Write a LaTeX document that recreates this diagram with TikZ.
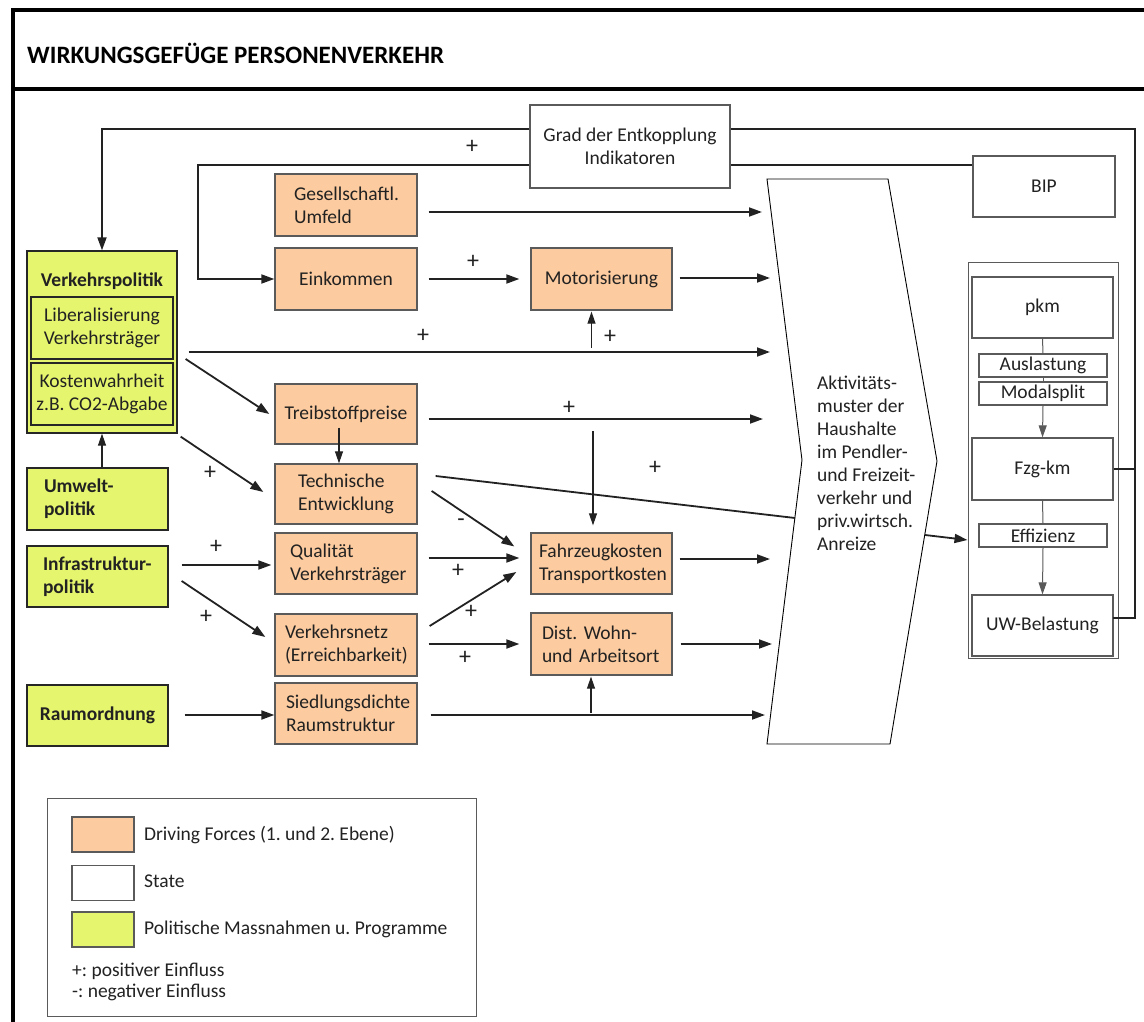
\documentclass[tikz,border=0pt]{standalone}
\usepackage{fontspec}
\setmainfont{Carlito}
\usetikzlibrary{arrows.meta,calc}
\definecolor{drvorange}{HTML}{FCCB9F}
\definecolor{polgreen}{HTML}{E6F56E}
\definecolor{edgegray}{HTML}{5A5A5A}
\definecolor{inkdark}{HTML}{222222}

\begin{document}
\frenchspacing
\begin{tikzpicture}[x=1pt,y=-1pt,
  txt/.style={font=\fontsize{19.5}{23}\selectfont},
  box/.style={draw=edgegray, line width=1.3pt, inner sep=0pt, txt, align=center, text=inkdark},
  drv/.style={box, fill=drvorange},
  pol/.style={box, fill=polgreen, draw=black!85},
  polb/.style={pol, font=\fontsize{19.5}{23}\selectfont\bfseries},
  sta/.style={box, fill=white},
  arr/.style={line width=1.8pt, draw=inkdark, -{Triangle[length=13pt,width=9pt]}},
  tarr/.style={line width=1.1pt, draw=inkdark, -{Triangle[length=12pt,width=8pt]}},
  tline/.style={line width=1pt, draw=edgegray},
  loopline/.style={line width=1.8pt, draw=inkdark},
  pm/.style={font=\fontsize{24}{24}\selectfont, inner sep=0pt, text=inkdark},
  frameline/.style={line width=3.6pt, line cap=rect, line join=miter},
]
\useasboundingbox (0,0) rectangle (1144,1022);

% frame and heading
\draw[frameline] (13,1030) -- (13,10) -- (1150,10);
\draw[frameline] (13,89) -- (1150,89);
\node[anchor=west, inner sep=0pt, font=\fontsize{25}{25}\selectfont\bfseries] (title) at (27,53) {WIRKUNGSGEFÜGE PERSONENVERKEHR};

% state boxes at the top
\node[sta, minimum width=200, minimum height=83] (grad) at (630,146.5) {Grad der Entkopplung\\Indikatoren};
\node[sta, minimum width=142, minimum height=61] (bip) at (1044,186.5) {BIP};

% policy column
\node[pol, minimum width=150, minimum height=182] (vp) at (102,342) {};
\node[inner sep=0pt, font=\fontsize{19.5}{23}\selectfont\bfseries, text=inkdark] (vptitle) at (102,281) {Verkehrspolitik};
\node[pol, minimum width=142, minimum height=62] (lib) at (102,328) {Liberalisierung\\Verkehrsträger};
\node[pol, minimum width=142, minimum height=62] (kost) at (102,394) {Kostenwahrheit\\z.B. CO2-Abgabe};
\node[polb, text width=107, inner xsep=17, align=left, minimum height=62] (umw) at (97.5,499) {Umwelt-\\politik};
\node[polb, text width=109, inner xsep=16, align=left, minimum height=61] (infra) at (97.5,576.5) {Infrastruktur-\\politik};
\node[polb, minimum width=141, minimum height=61] (raum) at (97.5,715.5) {Raumordnung};

% driving forces, first column
\node[drv, text width=104, inner xsep=19, align=left, minimum height=62] (ges) at (346,205) {Gesellschaftl.\\Umfeld};
\node[drv, minimum width=142, minimum height=62] (ein) at (346,279) {Einkommen};
\node[drv, minimum width=142, minimum height=60] (treib) at (346,414) {Treibstoffpreise};
\node[drv, text width=96, inner xsep=23, align=left, minimum height=60] (tech) at (346,494) {Technische\\Entwicklung};
\node[drv, text width=112, inner xsep=15, align=left, minimum height=61] (qual) at (346,563.5) {Qualität\\Verkehrsträger};
\node[drv, text width=122, inner xsep=10, align=left, minimum height=62] (netz) at (346,645) {Verkehrsnetz\\(Erreichbarkeit)};
\node[drv, text width=120, inner xsep=11, align=left, minimum height=61] (sied) at (346,713.5) {Siedlungsdichte\\Raumstruktur};

% driving forces, second column
\node[drv, minimum width=141, minimum height=62] (mot) at (601.5,279) {Motorisierung};
\node[drv, text width=125, inner xsep=8, align=left, minimum height=61] (fahr) at (601.5,563.5) {Fahrzeugkosten\\Transportkosten};
\node[drv, text width=119, inner xsep=11, align=left, minimum height=62] (dist) at (601.5,644) {Dist. Wohn-\\und Arbeitsort};

% activity pattern of households
\coordinate (cTL) at (767,179);
\coordinate (cTR) at (888,179);
\coordinate (cR)  at (937,461);
\coordinate (cBR) at (890,744);
\coordinate (cBL) at (767,744);
\coordinate (cL)  at (802,460);
\draw[line width=0.9pt, fill=white] (cTL) -- (cTR) -- (cR) -- (cBR) -- (cBL) -- (cL) -- cycle;
\node[txt, align=left, anchor=west, inner sep=0pt, text=inkdark] (akt) at (817,463)
  {Aktivitäts-\\muster der\\Haushalte\\im Pendler-\\und Freizeit-\\verkehr und\\priv.wirtsch.\\Anreize};
\coordinate (aktR) at (925,535);
\coordinate (aktL) at (795,518);

% state group on the right
\node[sta, line width=1pt, minimum width=150, minimum height=396] (grp) at (1043,460) {};
\node[sta, minimum width=141, minimum height=61] (pkm) at (1042.5,307.5) {pkm};
\node[sta, minimum width=128, minimum height=23] (ausl) at (1043,365.5) {Auslastung};
\node[sta, minimum width=128, minimum height=23] (modal) at (1043,393.5) {Modalsplit};
\node[sta, minimum width=141, minimum height=62] (fzg) at (1042.5,469) {Fzg-km};
\node[sta, minimum width=128, minimum height=23] (eff) at (1043,535.5) {Effizienz};
\node[sta, minimum width=141, minimum height=61] (uw) at (1042.5,625.5) {UW-Belastung};

\draw[tline] (pkm.south) -- (ausl.north);
\draw[tline] (ausl.south) -- (modal.north);
\draw[tline, -{Triangle[length=12pt,width=8pt]}] (modal.south) -- (fzg.north);
\draw[tline] (fzg.south) -- (eff.north);
\draw[tline, -{Triangle[length=12pt,width=8pt]}] (eff.south) -- (uw.north);

% feedback loops
\coordinate (tr) at (1135,129);
\coordinate (l2) at (198,165);
\coordinate (uwout) at (1113,618);
\draw[loopline] (fzg.east) -- (fzg.east -| tr);
\draw[loopline, line join=miter] (uwout) -- (uwout -| tr) -- (tr) -- (grad.east |- tr);
\draw[arr] (grad.west |- tr) -| (vp.north);
\draw[loopline] (bip.west |- l2) -- (grad.east |- l2);
\draw[arr] (grad.west |- l2) -- (l2) |- (ein.west);
\node[pm] (p0) at (472,147) {+};

% incoming ends at the activity pattern
\coordinate (in1) at (762,212);
\coordinate (in2) at (770,278);
\coordinate (in3) at (770,352);
\coordinate (in4) at (763,419);
\coordinate (in5) at (770,559);
\coordinate (in6) at (772,644);
\coordinate (in7) at (765,715);

\draw[arr] ($(ges.east)+(11,7)$) -- (in1);
\draw[arr] ($(ein.east)+(11,0)$) -- ($(mot.west)+(-11,0)$);
\node[pm] (p1) at (473,262) {+};
\draw[arr] ($(mot.east)+(7,-1)$) -- (in2);
\draw[arr] ($(vp.east)+(11,10)$) -- (in3);
\node[pm] (p2) at (423,336) {+};
\draw[tarr] ($(mot.south)+(-10,37)$) -- ($(mot.south)+(-10,1)$);
\node[pm] (p3) at (610,337) {+};

\draw[arr] ($(vp.east)+(8,17)$) -- ($(treib.west)+(-5,0)$);
\draw[arr] ($(vp.south east)+(3,3)$) -- ($(tech.west)+(-11,-2)$);
\node[pm] (p4) at (210,473) {+};
\draw[tarr] ($(treib.south)+(-7,-17)$) -- (tech.north -| {$(treib.south)+(-7,0)$});
\draw[arr] ($(treib.east)+(11,5)$) -- (in4);
\node[pm] (p5) at (569,408) {+};
\draw[tarr] ($(fahr.north)+(-8.5,-101)$) -- ($(fahr.north)+(-8.5,-7)$);

\draw[line width=1.8pt, draw=inkdark] ($(tech.east)+(18,-18)$) -- (aktL);
\node[pm] (p6) at (655,468) {+};
\draw[arr] ($(tech.east)+(14,-3)$) -- ($(fahr.west)+(-16,-17)$);
\node[pm] (p7) at (461,523) {-};

\draw[arr] ($(qual.east)+(11,-5.5)$) -- ($(fahr.west)+(-11,-5.5)$);
\node[pm] (p8) at (458,571) {+};
\draw[arr] ($(infra.east)+(13,-11.5)$) -- ($(qual.west)+(-3,1.5)$);
\node[pm] (p9) at (216,547) {+};
\draw[arr] ($(infra.east)+(13,4.5)$) -- ($(netz.west)+(-9,-8)$);
\node[pm] (p10) at (206,617) {+};

\draw[arr] ($(netz.east)+(12,-19)$) -- ($(fahr.west)+(-14,8.5)$);
\node[pm] (p11) at (471,612) {+};
\draw[arr] ($(netz.east)+(11,-1)$) -- ($(dist.west)+(-11,0)$);
\node[pm] (p12) at (465,658) {+};

\draw[arr] ($(fahr.east)+(7,-4.5)$) -- (in5);
\draw[arr] ($(dist.east)+(8,0)$) -- (in6);
\draw[arr] ($(sied.east)+(13,1.5)$) -- (in7);
\draw[tarr] ($(dist.south)+(-10.5,37)$) -- ($(dist.south)+(-10.5,1)$);
\draw[arr] ($(raum.east)+(16,-0.5)$) -- ($(sied.west)+(0,1.5)$);
\draw[tarr] (umw.north -| kost.south) -- (vp.south);

\draw[arr] (aktR) -- (grp.west |- {$(aktR)+(0,5)$});

% legend
\node[draw=edgegray, line width=1pt, minimum width=429, minimum height=218, inner sep=0pt] (legend) at (261.5,907) {};
\node[drv, minimum width=62, minimum height=35] (lgdrv) at (103,834.5) {};
\node[sta, minimum width=62, minimum height=35] (lgsta) at (103,883) {};
\node[pol, draw=edgegray, minimum width=62, minimum height=35] (lgpol) at (103,929.5) {};
\node[txt, anchor=west, inner sep=0pt, text=inkdark] (lt1) at (144,835) {Driving Forces (1. und 2. Ebene)};
\node[txt, anchor=west, inner sep=0pt, text=inkdark] (lt2) at (144,881) {State};
\node[txt, anchor=west, inner sep=0pt, text=inkdark] (lt3) at (144,929) {Politische Massnahmen u. Programme};
\node[txt, anchor=west, inner sep=0pt, text=inkdark] (lt4) at (72,971) {+: positiver Einfluss};
\node[txt, anchor=west, inner sep=0pt, text=inkdark] (lt5) at (72,992) {-: negativer Einfluss};
\end{tikzpicture}
\end{document}
